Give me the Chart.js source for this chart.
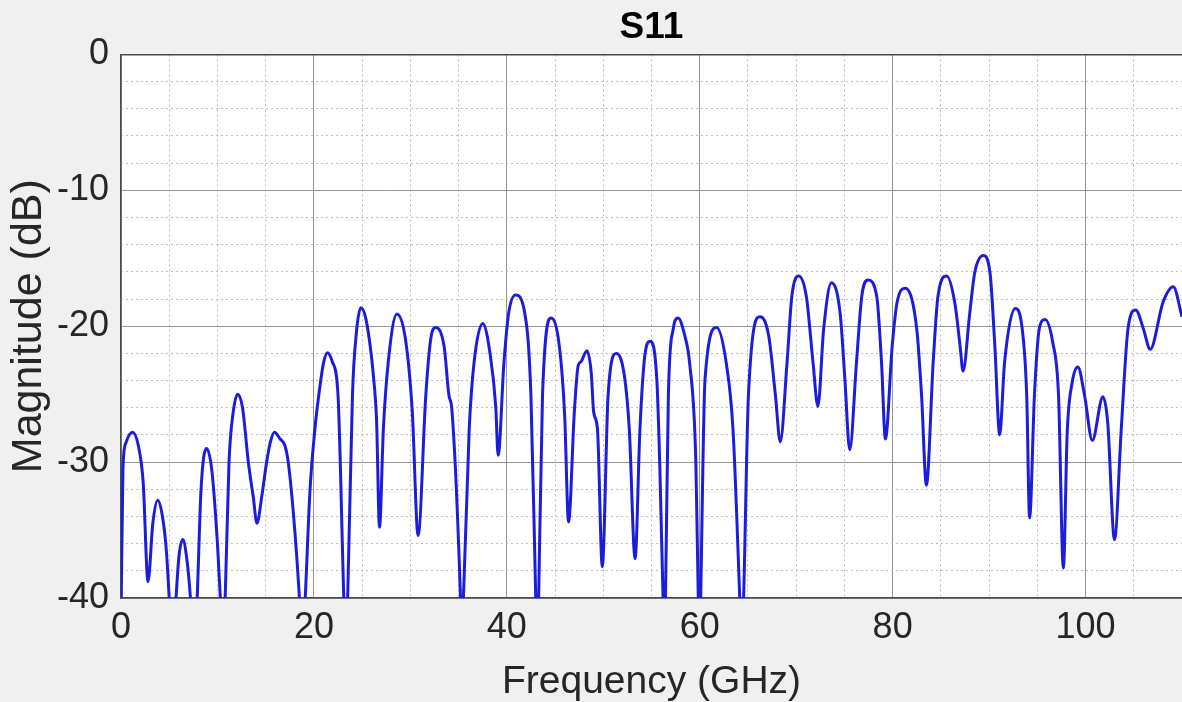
<!DOCTYPE html>
<html>
<head>
<meta charset="utf-8">
<title>S11</title>
<script src="https://cdn.jsdelivr.net/npm/chart.js@4.4.1/dist/chart.umd.min.js"></script>
<style>
    html, body { margin: 0; padding: 0; background: #f0f0f0; overflow: hidden; }
    #wrap { width: 1182px; height: 716px; }
</style>
</head>
<body>
<div id="wrap"><canvas id="s11Graph"></canvas></div>
<script>
// values
const freqGHz = [
    0.0, 0.2, 0.5, 1.2, 1.8, 2.3, 2.8, 3.3, 3.8, 4.3, 4.7, 5.0, 5.3, 5.7, 6.0, 6.4, 6.8, 7.2, 7.6, 7.9,
    8.3, 8.85, 9.4, 10.0, 10.3, 10.55, 10.8, 11.2, 11.6, 12.1, 12.6, 13.2, 13.7, 14.1, 14.6, 15.1, 15.5, 15.9,
    16.5, 17.0, 17.3, 17.9, 18.5, 18.8, 19.1, 19.6, 20.1, 20.5, 21.0, 21.4, 21.9, 22.5, 23.1, 23.3, 23.5,
    24.0, 24.4, 24.86, 25.4, 26.2, 26.5, 26.8, 27.2, 27.7, 28.6, 29.5, 30.2, 30.8, 31.6, 32.1, 32.6, 33.5,
    34.0, 34.3, 35.2, 35.35, 35.5, 36.1, 36.6, 37.5, 38.3, 38.85, 39.1, 39.7, 40.2, 40.9, 41.8, 42.5, 43.0,
    43.15, 43.3, 43.7, 44.6, 45.45, 46.0, 46.4, 47.0, 47.4, 47.7, 48.3, 48.75, 49.0, 49.4, 49.9, 50.5, 51.35,
    52.2, 52.7, 53.3, 53.8, 54.3, 54.85, 55.55, 55.85, 56.2, 56.32, 56.45, 56.75, 57.25, 57.75, 58.45, 58.95,
    59.6, 59.85, 60.0, 60.1, 60.55, 61.75, 62.75, 63.45, 64.15, 64.35, 64.55, 65.05, 66.25, 67.15, 67.85,
    68.35, 69.05, 69.55, 70.25, 71.05, 71.75, 72.25, 72.85, 73.65, 74.55, 75.05, 75.55, 76.25, 76.8, 77.45,
    78.35, 78.85, 79.25, 79.95, 80.45, 81.3, 82.5, 83.0, 83.5, 84.2, 84.7, 85.6, 86.45, 87.0, 87.3, 88.0,
    88.5, 89.4, 90.1, 90.6, 91.1, 91.6, 92.7, 93.4, 93.9, 94.2, 94.7, 95.2, 95.8, 96.6, 97.2, 97.7, 98.1,
    98.6, 99.2, 99.9, 100.7, 101.8, 102.3, 103.0, 103.7, 104.4, 105.2, 106.0, 106.7, 108.05, 109.1, 110.0
];
const magDB = [
    -42, -30.5, -28.6, -27.8, -28.8, -31.5, -38.8, -34.5, -32.8, -34, -36.5, -40, -44, -40, -37, -35.7, -37, -40, -45, -40,
    -32, -29.0, -30.5, -36, -40, -44, -40, -30, -26.5, -25.0, -26, -30, -32.5, -34.5, -32.5, -30, -28.5, -27.8,
    -28.3, -28.8, -29.8, -34, -40, -44, -40, -32, -27.6, -25.1, -22.7, -21.95, -22.6, -25.1, -40, -44, -40,
    -25, -20.5, -18.65, -19.5, -23.9, -27, -34.8, -27.6, -22.7, -19.1, -21, -26.3, -35.4, -25.1, -21, -20.1, -21.5,
    -25.1, -26.1, -40, -44, -40, -27.6, -22.7, -19.8, -22.2, -25.9, -29.5, -22.7, -19.0, -17.7, -18.8, -25.1, -40,
    -44, -40, -25.1, -19.4, -21.5, -26.6, -34.4, -26.3, -22.9, -22.6, -21.8, -23.4, -26.3, -27.6, -37.7, -25.1, -22.0,
    -23.7, -27.6, -37.1, -27.6, -22.2, -21.1, -23.9, -30, -40, -44, -40, -25.1, -20.2, -19.4, -20.7, -22.7,
    -30, -40, -44, -40, -23.9, -20.1, -22.7, -27.6, -40, -44, -40, -25.1, -19.3, -20.7, -25.1,
    -28.5, -22.7, -17.8, -16.3, -17.8, -22.7, -25.9, -20.2, -16.8, -19.0, -23.9, -29.1, -22.7, -17.8, -16.6,
    -17.8, -22.7, -28.3, -21.5, -18.3, -17.2, -20.2, -25.1, -31.7, -22.7, -17.8, -16.3, -18.3, -21.5, -23.3, -19.0,
    -16.1, -14.8, -16.1, -21.5, -28.0, -22.7, -18.7, -20.0, -25.1, -34.1, -25.1, -20.2, -19.5, -21.2, -25.1, -37.8, -27.8,
    -24.2, -23.0, -25.1, -28.4, -25.2, -27.1, -35.7, -27.6, -20.2, -18.8, -20.2, -21.7, -18.2, -17.1, -19.3
];
const xTicks = [0, 20, 40, 60, 80, 100];
const yTicks = [-40, -30, -20, -10, 0];

Chart.defaults.font.family = "'Liberation Sans', Arial, sans-serif";
Chart.defaults.color = '#262626';

// white plot area on the grey figure
const plotBackground = {
    id: 'plotBackground',
    beforeDraw(chart) {
        const { ctx, chartArea: a } = chart;
        ctx.save();
        ctx.fillStyle = '#ffffff';
        ctx.fillRect(a.left, a.top, a.right - a.left, a.bottom - a.top);
        ctx.restore();
    }
};

const s11Graph = document.getElementById('s11Graph');

new Chart(s11Graph, {
    type: 'line',
    plugins: [plotBackground],
    data: {
        datasets: [
            {
                label: 'S11',
                data: freqGHz.map((f, i) => ({ x: f, y: magDB[i] })),
                borderColor: '#1c1cdc',
                borderWidth: 3,
                pointRadius: 0,
                cubicInterpolationMode: 'monotone',
                xAxisID: 'x',
                yAxisID: 'y'
            }
        ]
    },
    options: {
        responsive: true,
        maintainAspectRatio: false,
        animation: false,
        layout: { padding: 0 },
        plugins: {
            legend: { display: false },
            tooltip: { enabled: false },
            title: {
                display: true,
                text: 'S11',
                fullSize: false,
                color: '#000000',
                font: { size: 37, weight: 'bold' },
                padding: { top: 6, bottom: 4 }
            }
        },
        scales: {
            x: {
                type: 'linear',
                min: 0,
                max: 110,
                afterBuildTicks: s => { s.ticks = xTicks.map(v => ({ value: v })); },
                afterFit: s => { s.height = 118; },
                grid: { color: '#959595', drawTicks: false },
                border: { color: '#4a4a4a', width: 1.5 },
                ticks: { font: { size: 36 }, padding: 8, maxRotation: 0, autoSkip: false },
                title: {
                    display: true,
                    text: 'Frequency (GHz)',
                    font: { size: 39 },
                    padding: { top: 0, bottom: 10 }
                }
            },
            xMinor: {
                type: 'linear',
                position: 'bottom',
                min: 0,
                max: 110,
                afterFit: s => { s.height = 0; },
                grid: {
                    color: c => (c.tick && c.tick.value % 20 === 0) ? 'rgba(0,0,0,0)' : '#bdbdbd',
                    drawTicks: false
                },
                border: { display: false, dash: [2, 3] },
                ticks: { display: false, stepSize: 5 }
            },
            y: {
                type: 'linear',
                min: -40,
                max: 0,
                afterBuildTicks: s => { s.ticks = yTicks.map(v => ({ value: v })); },
                afterFit: s => { s.width = 121; },
                grid: {
                    color: c => (c.tick && c.tick.value === 0) ? '#4a4a4a' : '#959595',
                    lineWidth: c => (c.tick && c.tick.value === 0) ? 1.5 : 1,
                    drawTicks: false
                },
                border: { color: '#4a4a4a', width: 1.5 },
                ticks: { font: { size: 36 }, padding: 12 },
                title: {
                    display: true,
                    text: 'Magnitude (dB)',
                    font: { size: 43 },
                    padding: { top: 3, bottom: 0 }
                }
            },
            yMinor: {
                type: 'linear',
                position: 'left',
                min: -40,
                max: 0,
                afterFit: s => { s.width = 0; },
                grid: {
                    color: c => (c.tick && c.tick.value % 10 === 0) ? 'rgba(0,0,0,0)' : '#bdbdbd',
                    drawTicks: false
                },
                border: { display: false, dash: [2, 3] },
                ticks: { display: false, stepSize: 2 }
            }
        }
    }
});
</script>
</body>
</html>
